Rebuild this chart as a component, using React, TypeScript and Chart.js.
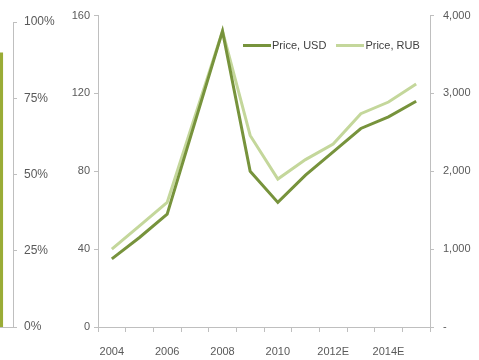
import React, { useEffect, useRef } from 'react';
import { Chart, registerables } from 'chart.js';

Chart.register(...registerables);

// ---- data ----
const years = ['2004', '2005', '2006', '2007', '2008', '2009', '2010', '2011', '2012E', '2013E', '2014E', '2015E'];
const priceUSD = [35, 46, 58, 105, 152, 80, 64, 78, 90, 102, 108, 116];
const priceRUB = [1000, 1300, 1600, 2700, 3800, 2460, 1900, 2150, 2350, 2740, 2890, 3120];
const seriesNames = ['Price, USD', 'Price, RUB'];
const usdTicks = [0, 40, 80, 120, 160];
const rubTicks = [0, 1000, 2000, 3000, 4000];
const shareTicks = [0, 25, 50, 75, 100];
// cropped bar of the neighbouring chart (share, %), visible only at its edge
const shareBarX = [0, 0.25];
const shareBarValue = [90, 90];

const FONT = "'Liberation Sans', Arial, Helvetica, sans-serif";
const TEXT = '#595959';
const AXIS = '#bfbfbf';
const USD_COLOR = '#77933c';
const RUB_COLOR = '#c4d79b';
const BAR_COLOR = '#9aac36';
const seriesColors = [USD_COLOR, RUB_COLOR];

export default function App() {
  const leftRef = useRef<HTMLCanvasElement>(null);
  const mainRef = useRef<HTMLCanvasElement>(null);

  useEffect(() => {
    const left = new Chart(leftRef.current as HTMLCanvasElement, {
      type: 'line',
      data: {
        datasets: [
          {
            data: shareBarX.map((x, i) => ({ x, y: shareBarValue[i] })),
            borderWidth: 0,
            borderColor: BAR_COLOR,
            backgroundColor: BAR_COLOR,
            pointRadius: 0,
            fill: 'origin',
          },
        ],
      },
      options: {
        animation: false,
        responsive: false,
        maintainAspectRatio: false,
        layout: { padding: { top: 22, bottom: 0, left: 0, right: 0 } },
        plugins: { legend: { display: false }, tooltip: { enabled: false } },
        scales: {
          x: {
            type: 'linear',
            min: 0,
            max: 1,
            ticks: { display: false },
            grid: { display: false },
            border: { display: true, color: AXIS, width: 1 },
            afterFit: (s: any) => {
              s.height = 33;
            },
          },
          y: {
            position: 'right',
            min: 0,
            max: 100,
            afterBuildTicks: (s: any) => {
              s.ticks = shareTicks.map((v) => ({ value: v }));
            },
            ticks: {
              color: TEXT,
              font: { family: FONT, size: 12 },
              padding: 7,
              callback: (v: any) => `${v}%`,
            },
            grid: { drawOnChartArea: false, tickLength: 4, color: AXIS },
            border: { color: AXIS },
            afterFit: (s: any) => {
              s.width = 47;
            },
          },
        },
      },
    });

    const main = new Chart(mainRef.current as HTMLCanvasElement, {
      type: 'line',
      data: {
        labels: years,
        datasets: [
          {
            label: seriesNames[0],
            data: priceUSD,
            yAxisID: 'y',
            borderColor: USD_COLOR,
            backgroundColor: USD_COLOR,
            borderWidth: 3,
            pointRadius: 0,
            tension: 0,
            order: 1,
          },
          {
            label: seriesNames[1],
            data: priceRUB,
            yAxisID: 'y1',
            borderColor: RUB_COLOR,
            backgroundColor: RUB_COLOR,
            borderWidth: 3,
            pointRadius: 0,
            tension: 0,
            order: 2,
          },
        ],
      },
      options: {
        animation: false,
        responsive: false,
        maintainAspectRatio: false,
        layout: { padding: { top: 15, bottom: 0, left: 0, right: 0 } },
        plugins: {
          legend: { display: false },
          tooltip: { enabled: false },
        },
        scales: {
          x: {
            type: 'category',
            offset: true,
            grid: { display: true, drawOnChartArea: false, offset: true, tickLength: 5, color: AXIS },
            border: { color: AXIS },
            ticks: {
              autoSkip: false,
              maxRotation: 0,
              padding: 13,
              color: TEXT,
              font: { family: FONT, size: 11 },
              callback: (_v: any, i: number) => (i % 2 === 0 ? years[i] : ''),
            },
            afterFit: (s: any) => {
              s.height = 33;
            },
          },
          y: {
            position: 'left',
            min: 0,
            max: 160,
            afterBuildTicks: (s: any) => {
              s.ticks = usdTicks.map((v) => ({ value: v }));
            },
            ticks: { color: TEXT, font: { family: FONT, size: 11 }, padding: 4 },
            grid: { drawOnChartArea: false, tickLength: 4, color: AXIS },
            border: { color: AXIS },
            afterFit: (s: any) => {
              s.width = 98;
            },
          },
          y1: {
            position: 'right',
            min: 0,
            max: 4000,
            afterBuildTicks: (s: any) => {
              s.ticks = rubTicks.map((v) => ({ value: v }));
            },
            ticks: {
              color: TEXT,
              font: { family: FONT, size: 11 },
              padding: 9,
              callback: (v: any) => (Number(v) === 0 ? '-' : Number(v).toLocaleString('en-US')),
            },
            grid: { drawOnChartArea: false, tickLength: 4, color: AXIS },
            border: { color: AXIS },
            afterFit: (s: any) => {
              s.width = 49;
            },
          },
        },
      },
    });

    return () => {
      left.destroy();
      main.destroy();
    };
  }, []);

  return (
    <div style={{ position: 'absolute', left: 0, top: 0, width: 479, height: 360, background: '#fff', overflow: 'hidden' }}>
      <canvas ref={leftRef} width={60} height={360} style={{ position: 'absolute', left: 0, top: 0, width: 60, height: 360 }} />
      <canvas ref={mainRef} width={479} height={360} style={{ position: 'absolute', left: 0, top: 0, width: 479, height: 360 }} />
      <div
        style={{
          position: 'absolute',
          left: 243,
          top: 38,
          display: 'flex',
          alignItems: 'center',
          fontFamily: FONT,
          fontSize: 11,
          color: '#404040',
          lineHeight: '14px',
          whiteSpace: 'nowrap',
        }}
      >
        {seriesNames.map((name, i) => (
          <div key={name} style={{ display: 'flex', alignItems: 'center', marginRight: i === 0 ? 10 : 0 }}>
            <span style={{ display: 'inline-block', width: 28, height: 3, background: seriesColors[i], marginRight: 1 }} />
            <span>{name}</span>
          </div>
        ))}
      </div>
    </div>
  );
}
